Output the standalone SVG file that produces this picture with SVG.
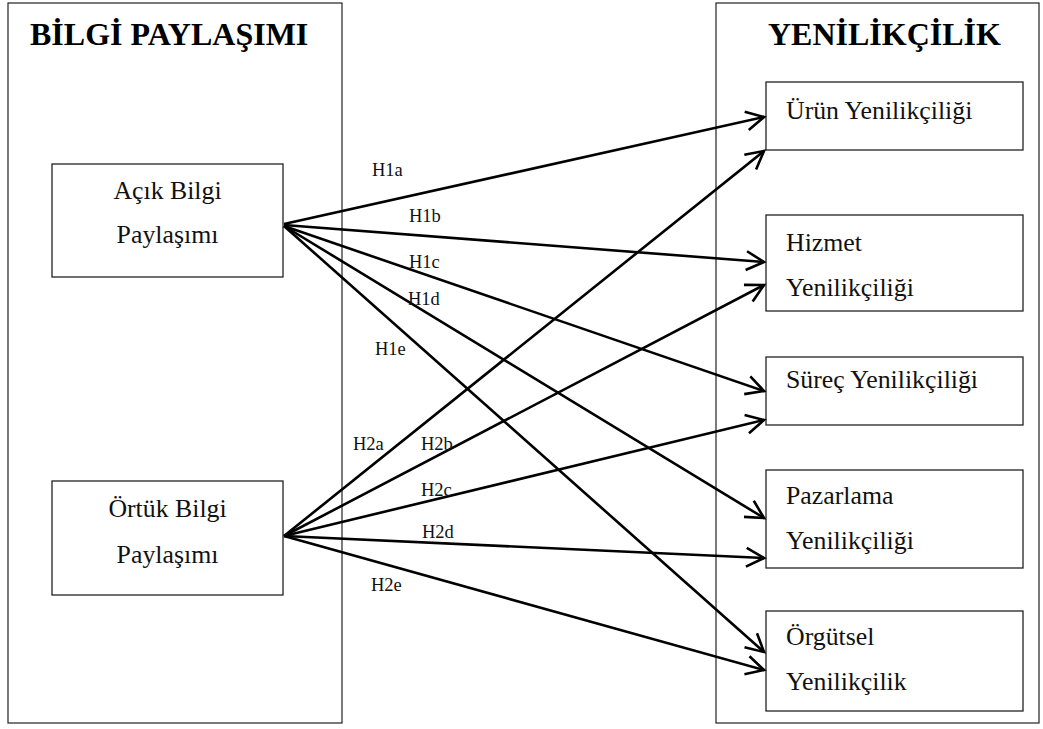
<svg xmlns="http://www.w3.org/2000/svg" width="1043" height="729" viewBox="0 0 1043 729">
  <style>
    .panel { fill: #ffffff; stroke: #222222; stroke-width: 1.2; }
    .box { fill: #ffffff; stroke: #222222; stroke-width: 1.3; }
    .title { font-family: "Liberation Serif", "Times New Roman", serif; font-weight: bold; font-size: 32px; fill: #000000; }
    .txt { font-family: "Liberation Serif", "Times New Roman", serif; font-size: 25.8px; fill: #111111; }
    .lbl { font-family: "Liberation Serif", "Times New Roman", serif; font-size: 18.5px; fill: #111111; }
    .edge { fill: none; stroke: #000000; stroke-width: 2.6; marker-end: url(#open); }
  </style>
  <defs>
    <marker id="open" markerUnits="userSpaceOnUse" markerWidth="24" markerHeight="24" viewBox="-21 -12 24 24" refX="0" refY="0" orient="auto" overflow="visible">
      <path d="M -17.7 -9.4 L 0 0 L -17.7 9.4" fill="none" stroke="#000000" stroke-width="2.6" stroke-linejoin="miter"/>
    </marker>
  </defs>
  <rect width="1043" height="729" fill="#ffffff"/>

  <!-- left panel -->
  <g id="bilgi-paylasimi">
    <rect class="panel" x="8" y="3" width="334" height="720"/>
    <text class="title" x="30" y="45">BİLGİ PAYLAŞIMI</text>
  </g>

  <!-- right panel -->
  <g id="yenilikcilik">
    <rect class="panel" x="716" y="3" width="323" height="720"/>
    <text class="title" x="768" y="45">YENİLİKÇİLİK</text>
  </g>

  <g id="acik-bilgi">
    <rect class="box" x="52" y="164" width="231" height="113"/>
    <text class="txt" x="167.5" y="199" text-anchor="middle">Açık Bilgi</text>
    <text class="txt" x="167.5" y="243" text-anchor="middle">Paylaşımı</text>
  </g>

  <g id="ortuk-bilgi">
    <rect class="box" x="52" y="481" width="231" height="114"/>
    <text class="txt" x="167.5" y="517" text-anchor="middle">Örtük Bilgi</text>
    <text class="txt" x="167.5" y="563" text-anchor="middle">Paylaşımı</text>
  </g>

  <g id="urun">
    <rect class="box" x="766" y="82" width="257" height="68"/>
    <text class="txt" x="786" y="119">Ürün Yenilikçiliği</text>
  </g>

  <g id="hizmet">
    <rect class="box" x="766" y="215" width="257" height="96"/>
    <text class="txt" x="786" y="251">Hizmet</text>
    <text class="txt" x="786" y="296">Yenilikçiliği</text>
  </g>

  <g id="surec">
    <rect class="box" x="766" y="357" width="257" height="68"/>
    <text class="txt" x="786" y="388">Süreç Yenilikçiliği</text>
  </g>

  <g id="pazarlama">
    <rect class="box" x="766" y="470" width="257" height="98"/>
    <text class="txt" x="786" y="504">Pazarlama</text>
    <text class="txt" x="786" y="549">Yenilikçiliği</text>
  </g>

  <g id="orgutsel">
    <rect class="box" x="766" y="611" width="257" height="100"/>
    <text class="txt" x="786" y="645">Örgütsel</text>
    <text class="txt" x="786" y="690">Yenilikçilik</text>
  </g>

  <g id="connectors">
    <line class="edge" x1="284" y1="224" x2="764" y2="117"/>
    <line class="edge" x1="284" y1="225" x2="764" y2="262"/>
    <line class="edge" x1="284" y1="226" x2="764" y2="391"/>
    <line class="edge" x1="284" y1="226" x2="764" y2="518"/>
    <line class="edge" x1="284" y1="226" x2="764" y2="652"/>
    <line class="edge" x1="284" y1="536" x2="764" y2="151"/>
    <line class="edge" x1="284" y1="536" x2="764" y2="285"/>
    <line class="edge" x1="284" y1="536" x2="764" y2="420"/>
    <line class="edge" x1="284" y1="536" x2="764" y2="558"/>
    <line class="edge" x1="284" y1="536" x2="764" y2="670"/>
  </g>

  <g id="labels">
    <text class="lbl" x="372" y="176">H1a</text>
    <text class="lbl" x="409" y="222">H1b</text>
    <text class="lbl" x="409" y="268">H1c</text>
    <text class="lbl" x="408" y="305">H1d</text>
    <text class="lbl" x="375" y="355">H1e</text>
    <text class="lbl" x="353" y="450">H2a</text>
    <text class="lbl" x="421" y="450">H2b</text>
    <text class="lbl" x="421" y="496">H2c</text>
    <text class="lbl" x="422" y="538">H2d</text>
    <text class="lbl" x="371" y="591">H2e</text>
  </g>
</svg>
